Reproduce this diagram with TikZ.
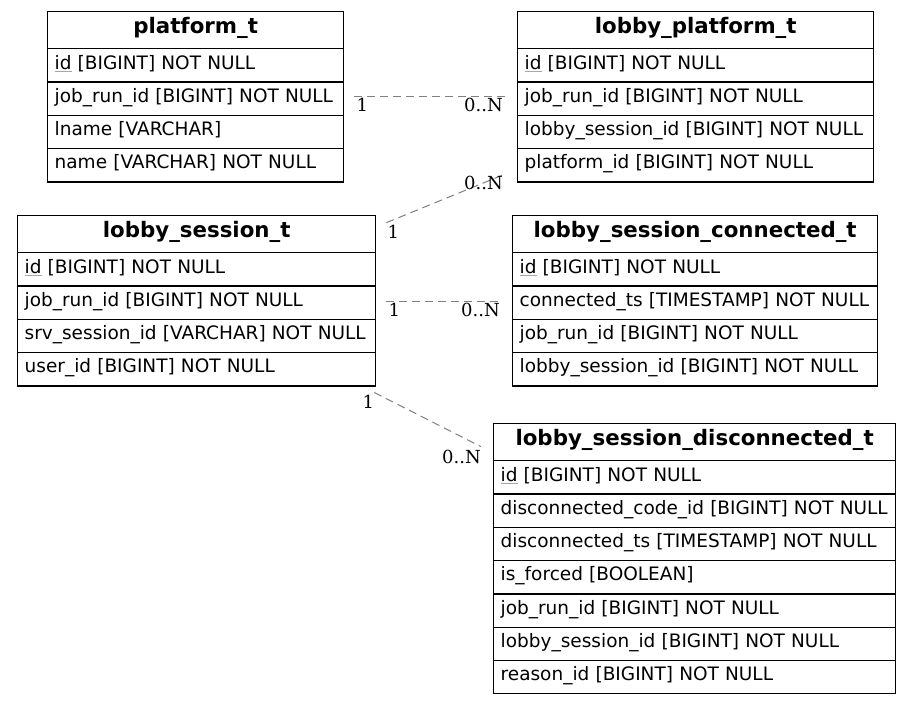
\documentclass[tikz,border=0pt]{standalone}
\usepackage{fontspec}
\setmainfont{DejaVu Sans}
\newfontfamily\lblfont{DejaVu Serif}
\usetikzlibrary{calc}
\definecolor{edgegray}{RGB}{128,128,128}
\newcommand\pkey[1]{\setbox0\hbox{#1}\rlap{\color{gray!70}\rule[-2.6pt]{\wd0}{1pt}}\box0}
\tikzset{
  tblbox/.style={draw=black, line width=1.33pt, inner xsep=7pt, inner ysep=0pt, anchor=north west},
  hdrcell/.style={tblbox, minimum height=37pt, text height=15pt, text depth=8pt, align=center,
    font=\fontsize{21.33}{24}\selectfont\bfseries},
  fldcell/.style={tblbox, minimum height=33.3pt, text height=14pt, text depth=6.6pt, align=left,
    font=\fontsize{18.5}{22}\selectfont},
  reledge/.style={draw=edgegray, line width=1pt, dash pattern=on 8pt off 5pt},
  card/.style={font=\lblfont\fontsize{18}{20}\selectfont, inner sep=0pt, text=black}
}
% #1 name, #2 x, #3 y, #4 width, #5 title, #6 fields
\newcommand\dbtable[6]{%
  \node[hdrcell, text width=#4-14] (#1) at (#2,#3) {\mbox{#5}};
  \foreach \f [count=\i] in {#6} {
    \node[fldcell, text width=#4-14] (#1-\i) at (#2,{#3+37+(\i-1)*33.3}) {\mbox{\f}};
  }%
}
\begin{document}
\begin{tikzpicture}[x=1pt,y=-1pt]
\useasboundingbox[fill=white] (0,0) rectangle (912,703);

\dbtable{pt}{47}{11}{296}{platform\_t}{%
  \pkey{id}\ [BIGINT] NOT NULL,
  job\_run\_id [BIGINT] NOT NULL,
  lname [VARCHAR],
  name [VARCHAR] NOT NULL}

\dbtable{lp}{517}{11}{356}{lobby\_platform\_t}{%
  \pkey{id}\ [BIGINT] NOT NULL,
  job\_run\_id [BIGINT] NOT NULL,
  lobby\_session\_id [BIGINT] NOT NULL,
  platform\_id [BIGINT] NOT NULL}

\dbtable{ls}{17}{215}{358}{lobby\_session\_t}{%
  \pkey{id}\ [BIGINT] NOT NULL,
  job\_run\_id [BIGINT] NOT NULL,
  srv\_session\_id [VARCHAR] NOT NULL,
  user\_id [BIGINT] NOT NULL}

\dbtable{lc}{512}{215}{365}{lobby\_session\_connected\_t}{%
  \pkey{id}\ [BIGINT] NOT NULL,
  connected\_ts [TIMESTAMP] NOT NULL,
  job\_run\_id [BIGINT] NOT NULL,
  lobby\_session\_id [BIGINT] NOT NULL}

\dbtable{ld}{493}{423}{402}{lobby\_session\_disconnected\_t}{%
  \pkey{id}\ [BIGINT] NOT NULL,
  disconnected\_code\_id [BIGINT] NOT NULL,
  disconnected\_ts [TIMESTAMP] NOT NULL,
  is\_forced [BOOLEAN],
  job\_run\_id [BIGINT] NOT NULL,
  lobby\_session\_id [BIGINT] NOT NULL,
  reason\_id [BIGINT] NOT NULL}

% edge end points
\coordinate (e1s) at ($(pt-2.east)+(10,-2.5)$);
\coordinate (e1t) at ($(lp-2.west)+(-11,-2.5)$);
\coordinate (e2s) at ($(ls.east)+(10,-11.5)$);
\coordinate (e2t) at ($(lp-4.west)+(-11,8.5)$);
\coordinate (e3s) at ($(ls-2.east)+(10,-1.5)$);
\coordinate (e3t) at ($(lc-2.west)+(-12,-1.5)$);
\coordinate (e4s) at ($(ls-4.south east)+(-2,6)$);
\coordinate (e4t) at ($(ld.west)+(-12,4.5)$);

\draw[reledge] (e1s) -- (e1t);
\draw[reledge] (e2s) -- (e2t);
\draw[reledge] (e3s) -- (e3t);
\draw[reledge] (e4s) -- (e4t);

\node[card, anchor=base west] (l1s) at ($(e1s)+(2,15)$) {1};
\node[card, anchor=base east] (l1t) at ($(e1t)+(-3,15)$) {0..N};
\node[card, anchor=base west] (l2s) at ($(e2s)+(1,16)$) {1};
\node[card, anchor=base east] (l2t) at ($(e2t)+(-3,16)$) {0..N};
\node[card, anchor=base west] (l3s) at ($(e3s)+(2,15.5)$) {1};
\node[card, anchor=base east] (l3t) at ($(e3t)+(0,15.5)$) {0..N};
\node[card, anchor=base west] (l4s) at ($(e4s)+(-12,16)$) {1};
\node[card, anchor=base east] (l4t) at ($(e4t)+(0,17)$) {0..N};
\end{tikzpicture}
\end{document}
